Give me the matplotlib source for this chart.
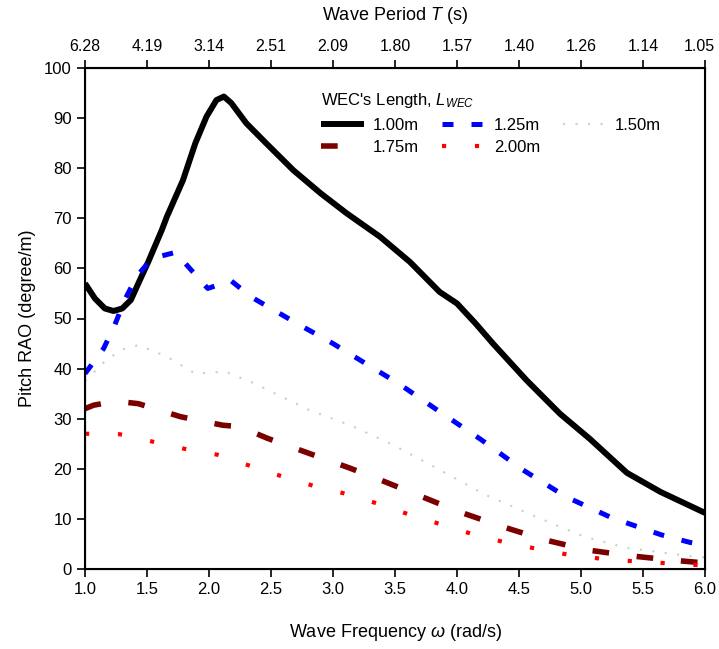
import numpy as np
import matplotlib
matplotlib.use("Agg")
import matplotlib.pyplot as plt
from matplotlib.transforms import ScaledTranslation

plt.rcParams['font.family'] = ['Liberation Sans', 'DejaVu Sans']
plt.rcParams['mathtext.fontset'] = 'custom'
plt.rcParams['mathtext.it'] = 'Liberation Sans:italic'
plt.rcParams['mathtext.rm'] = 'Liberation Sans'

# donnees (omega en rad/s, RAO en degre/m)
w_100 = [1.00, 1.08, 1.16, 1.23, 1.30, 1.37, 1.43, 1.51, 1.62, 1.66, 1.79, 1.89, 1.98, 2.06, 2.12, 2.18, 2.30, 2.46, 2.68, 2.90, 3.11, 3.38, 3.62, 3.86, 4.00, 4.15, 4.29, 4.56, 4.83, 5.07, 5.37, 5.64, 6.00]
rao_100 = [57.0, 54.0, 52.0, 51.5, 52.0, 53.7, 57.0, 61.3, 67.7, 70.3, 77.6, 85.0, 90.3, 93.6, 94.3, 93.0, 89.0, 85.0, 79.6, 75.0, 71.0, 66.3, 61.3, 55.3, 53.0, 49.0, 45.0, 37.7, 31.0, 26.0, 19.2, 15.4, 11.2]

w_125 = [1.00, 1.15, 1.24, 1.32, 1.42, 1.54, 1.73, 1.87, 1.99, 2.05, 2.18, 2.34, 2.71, 3.00, 3.35, 3.53, 3.86, 4.19, 4.53, 4.88, 5.25, 5.65, 5.88, 6.00]
rao_125 = [39.0, 44.0, 48.7, 53.7, 58.5, 62.0, 63.2, 59.3, 56.0, 56.5, 57.5, 54.3, 49.0, 45.0, 39.7, 37.0, 31.4, 25.9, 19.8, 14.4, 10.2, 6.8, 5.3, 4.8]

w_150 = [1.00, 1.17, 1.30, 1.43, 1.66, 1.89, 2.13, 2.37, 2.81, 3.14, 3.49, 3.86, 4.23, 4.64, 5.02, 5.37, 5.90, 6.00]
rao_150 = [37.5, 41.7, 43.8, 44.7, 42.4, 39.0, 39.4, 37.0, 31.7, 28.7, 24.7, 19.8, 14.8, 10.4, 6.5, 4.2, 2.5, 2.3]

w_175 = [1.00, 1.07, 1.25, 1.43, 1.77, 2.11, 2.25, 2.47, 3.14, 3.38, 3.70, 4.02, 4.36, 4.71, 5.05, 5.41, 5.72, 6.00]
rao_175 = [32.0, 32.7, 33.5, 33.0, 30.4, 28.7, 28.4, 26.1, 20.1, 17.8, 14.6, 11.4, 8.5, 5.8, 3.8, 2.6, 1.8, 1.2]

w_200 = [1.00, 1.28, 1.55, 1.80, 2.07, 2.33, 2.60, 2.87, 3.14, 3.34, 3.60, 3.86, 4.12, 4.39, 4.65, 4.91, 5.18, 5.45, 5.66, 6.00]
rao_200 = [27.0, 26.9, 25.4, 24.0, 22.8, 20.6, 18.4, 16.4, 14.8, 13.2, 11.0, 9.0, 7.0, 5.3, 4.0, 2.8, 2.0, 1.5, 1.2, 0.7]

ticks_w = [1.0, 1.5, 2.0, 2.5, 3.0, 3.5, 4.0, 4.5, 5.0, 5.5, 6.0]

fig = plt.figure(figsize=(7.19, 6.49), dpi=100)
ax = fig.add_axes([85/719, 1-569/649, 620/719, 501/649])

l1, = ax.plot(w_100, rao_100, color='black', lw=4.3, solid_joinstyle='round', solid_capstyle='butt', label='1.00m')
l2, = ax.plot(w_125, rao_125, color='#0000ff', lw=3.6, dashes=(2.2, 3.6), label='1.25m')
l3, = ax.plot(w_150, rao_150, color='#b8dcb8', lw=1.5, dashes=(1.0, 5.0), label='1.50m')
l4, = ax.plot(w_175, rao_175, color='#7b0000', lw=4.0, dashes=(3.0, 5.0), label='1.75m')
l5, = ax.plot(w_200, rao_200, color='#ff0000', lw=3.0, dashes=(1.0, 6.9), label='2.00m')

ax.set_xlim(1.0, 6.0)
ax.set_ylim(0, 100)
ax.set_xticks(ticks_w)
ax.set_xticklabels([f"{t:.1f}" for t in ticks_w])
ax.set_yticks(range(0, 101, 10))
ax.tick_params(direction='out', length=6, width=1.2, labelsize=12)
ax.tick_params(axis='y', right=False)
for s in ax.spines.values():
    s.set_linewidth(1.5)
ax.set_xlabel(r"Wave Frequency $\omega$ (rad/s)", fontsize=13, labelpad=18)
ax.set_ylabel("Pitch RAO (degree/m)", fontsize=13, labelpad=6)

# axe du haut : periode T = 2pi/omega
ax2 = ax.twiny()
ax2.set_xlim(ax.get_xlim())
ax2.set_xticks(ticks_w)
ax2.set_xticklabels([f"{2*np.pi/t:.2f}" for t in ticks_w])
ax2.tick_params(direction='out', length=6, width=1.2, labelsize=11.5, pad=4)
ax2.set_xlabel(r"Wave Period $T$ (s)", fontsize=13, labelpad=14)
# petit decalage du dernier label pour qu'il ne sorte pas de l'image
dernier = ax2.get_xticklabels()[-1]
dernier.set_transform(dernier.get_transform() + ScaledTranslation(-4/72, 0, fig.dpi_scale_trans))

# ordre colonne par colonne pour avoir 1.00/1.25/1.50 sur la premiere ligne
leg = ax.legend([l1, l4, l2, l5, l3], ['1.00m', '1.75m', '1.25m', '2.00m', '1.50m'],
                ncol=3, title=r"WEC's Length, $L_{WEC}$", frameon=False,
                loc='upper left', bbox_to_anchor=(306/719, 1-76/649),
                bbox_transform=fig.transFigure, fontsize=12, title_fontsize=12,
                handlelength=2.6, columnspacing=1.4, handletextpad=0.5,
                labelspacing=0.45, alignment='left')

fig.savefig("out.png", dpi=100)
